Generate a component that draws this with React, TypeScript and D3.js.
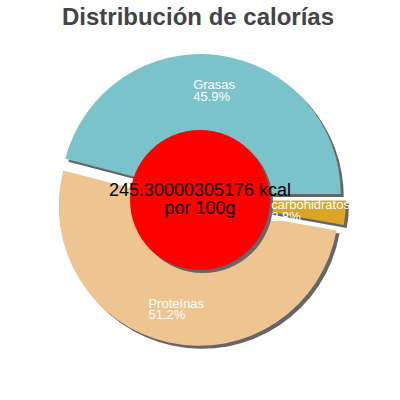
import React, { useRef, useEffect } from 'react';
import * as d3 from 'd3';

const labels = ['Grasas', 'carbohidratos', 'Proteínas'];
const percents = [45.9, 2.8, 51.2];
const colors = ['#7ac3cb', '#dba626', '#eec591'];
const energyText = '245.30000305176 kcal';
const perText = 'por 100g';

const App: React.FC = () => {
  const svgRef = useRef<SVGSVGElement>(null);

  useEffect(() => {
    if (!svgRef.current) return;
    const svg = d3.select(svgRef.current);
    svg.selectAll('*').remove();

    const cx = 200;
    const cy = 200;
    const radius = 140;
    const explode = 6;
    const shadow = 3;
    const font = "'Liberation Sans', Arial, sans-serif";

    const total = d3.sum(percents);
    // first slice ends pointing right (east)
    const start = Math.PI / 2 - (percents[0] / total) * Math.PI * 2;

    const pie = d3.pie<number>().sort(null).startAngle(start).endAngle(start + Math.PI * 2);
    const arcs = pie(percents);
    const arc = d3.arc<d3.PieArcDatum<number>>().innerRadius(0).outerRadius(radius);
    const labelArc = d3.arc<d3.PieArcDatum<number>>().innerRadius(70).outerRadius(radius);

    const offset = (d: d3.PieArcDatum<number>) => {
      const mid = (d.startAngle + d.endAngle) / 2;
      return [Math.sin(mid) * explode, -Math.cos(mid) * explode];
    };

    svg.append('text')
      .attr('x', 198)
      .attr('y', 25)
      .attr('text-anchor', 'middle')
      .style('font-family', font)
      .style('font-size', '24px')
      .style('font-weight', 'bold')
      .style('fill', '#444444')
      .text('Distribución de calorías');

    const g = svg.append('g').attr('transform', `translate(${cx},${cy})`);

    // shadows
    arcs.forEach(d => {
      const [ox, oy] = offset(d);
      g.append('path')
        .attr('d', arc(d))
        .attr('transform', `translate(${ox + shadow},${oy + shadow})`)
        .style('fill', '#666666');
    });

    arcs.forEach((d, i) => {
      const [ox, oy] = offset(d);
      g.append('path')
        .attr('d', arc(d))
        .attr('transform', `translate(${ox},${oy})`)
        .style('fill', colors[i]);
    });

    // centre disc
    g.append('circle').attr('cx', shadow).attr('cy', shadow).attr('r', 70).style('fill', '#666666');
    g.append('circle').attr('r', 70).style('fill', '#ff0000');

    g.append('text')
      .attr('x', 0)
      .attr('y', -4)
      .attr('text-anchor', 'middle')
      .style('font-family', font)
      .style('font-size', '18px')
      .style('fill', '#000')
      .text(energyText);
    g.append('text')
      .attr('x', 0)
      .attr('y', 14)
      .attr('text-anchor', 'middle')
      .style('font-family', font)
      .style('font-size', '18px')
      .style('fill', '#000')
      .text(perText);

    // slice labels: two left-aligned lines, block centred on the ring centroid
    arcs.forEach((d, i) => {
      const [ox, oy] = offset(d);
      const [lx, ly] = labelArc.centroid(d);
      const t = g.append('text')
        .style('font-family', font)
        .style('font-size', '13px')
        .style('fill', '#ffffff');
      const l1 = t.append('tspan').attr('y', ly + oy - 0.5).text(labels[i]);
      const l2 = t.append('tspan').attr('y', ly + oy + 11).text(`${percents[i]}%`);
      const w = Math.max(
        (l1.node() as SVGTSpanElement).getComputedTextLength(),
        (l2.node() as SVGTSpanElement).getComputedTextLength()
      );
      const x0 = lx + ox - w / 2;
      l1.attr('x', x0);
      l2.attr('x', x0);
    });
  }, []);

  return (
    <svg ref={svgRef} width={400} height={400} style={{ position: 'absolute', left: 0, top: 0 }} />
  );
};

export default App;
